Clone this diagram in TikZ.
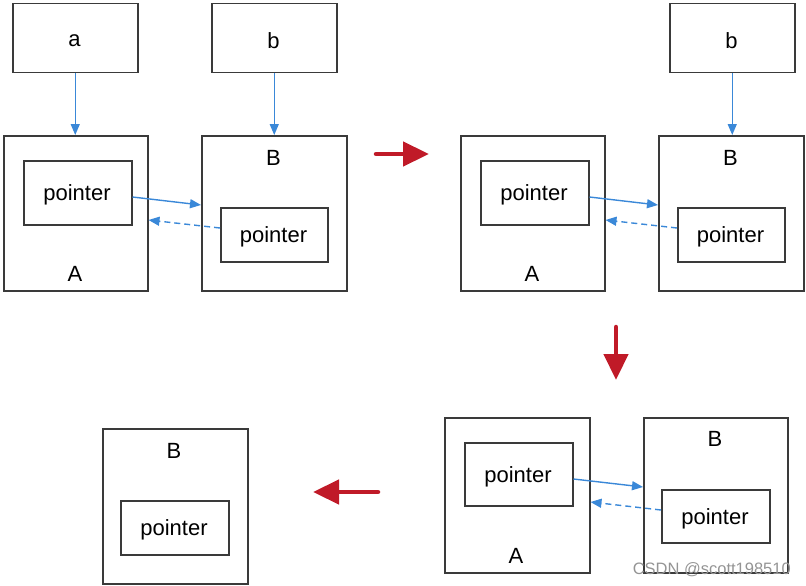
\documentclass[tikz,border=0pt]{standalone}
\usepackage{fontspec}
\setmainfont{Liberation Sans}
\usetikzlibrary{arrows.meta}
\definecolor{boxgray}{RGB}{58,58,58}
\definecolor{linkblue}{RGB}{58,136,216}
\definecolor{bigred}{RGB}{192,26,40}
\tikzset{
  box/.style={draw=boxgray,line width=1.5pt,inner sep=0pt},
  lbl/.style={font=\fontsize{22}{24}\selectfont,inner sep=0pt,yshift=-2pt},
  link/.style={draw=linkblue,line width=1.4pt,-{Triangle[length=11pt,width=9pt]}},
  back/.style={link,dash pattern=on 6pt off 4pt},
  bigarrow/.style={draw=bigred,line width=4.5pt,line cap=round,-{Triangle[length=26pt,width=24pt,line cap=butt]},shorten >=-1pt},
}
\newcommand{\boxat}[5]{% name, x1,y1,x2,y2
  \node[box,minimum width={(#4-#2)*1pt},minimum height={(#5-#3)*1pt},anchor=north west] (#1) at (#2,#3) {};}
\begin{document}
\begin{tikzpicture}[x=1pt,y=-1pt]
\useasboundingbox (0,0) rectangle (806,586);
% Panel 1
\boxat{a1}{12}{3}{137}{72}
\node[lbl] (ta1) at (74.5,39) {a};
\boxat{b1}{211}{3}{336}{72}
\node[lbl] (tb1) at (273.5,39) {b};
\boxat{A1}{3}{135}{147}{290}
\node[lbl] (tA1) at (75,272) {A};
\boxat{pA1}{23}{160}{131}{224}
\node[lbl] (tpA1) at (77,193) {pointer};
\boxat{B1}{201}{135}{346}{290}
\node[lbl] (tB1) at (273.5,156) {B};
\boxat{pB1}{220}{207}{327}{261}
\node[lbl] (tpB1) at (273.5,235) {pointer};
\draw[link] (a1.south) -- (a1.south |- A1.north);
\draw[link] (b1.south) -- (b1.south |- B1.north);
\draw[link] (pA1.east |- 0,197) -- (B1.west |- 0,205);
\draw[back] (pB1.west |- 0,228) -- (A1.east |- 0,220);
% Panel 2
\boxat{b2}{669}{3}{794}{72}
\node[lbl] (tb2) at (731.5,39) {b};
\boxat{A2}{460}{135}{604}{290}
\node[lbl] (tA2) at (532,272) {A};
\boxat{pA2}{480}{160}{588}{224}
\node[lbl] (tpA2) at (534,193) {pointer};
\boxat{B2}{658}{135}{803}{290}
\node[lbl] (tB2) at (730.5,156) {B};
\boxat{pB2}{677}{207}{784}{261}
\node[lbl] (tpB2) at (730.5,235) {pointer};
\draw[link] (b2.south) -- (b2.south |- B2.north);
\draw[link] (pA2.east |- 0,197) -- (B2.west |- 0,205);
\draw[back] (pB2.west |- 0,228) -- (A2.east |- 0,220);
% Panel 3
\boxat{A3}{444}{417}{589}{572}
\node[lbl] (tA3) at (516,554) {A};
\boxat{pA3}{464}{442}{572}{505}
\node[lbl] (tpA3) at (518,475) {pointer};
\boxat{B3}{643}{417}{787}{572}
\node[lbl] (tB3) at (715,437) {B};
\boxat{pB3}{661}{489}{769}{542}
\node[lbl] (tpB3) at (715,517) {pointer};
\draw[link] (pA3.east |- 0,479) -- (B3.west |- 0,487);
\draw[back] (pB3.west |- 0,510) -- (A3.east |- 0,502);
% Panel 4
\boxat{B4}{102}{428}{247}{583}
\node[lbl] (tB4) at (174,449) {B};
\boxat{pB4}{120}{500}{228}{554}
\node[lbl] (tpB4) at (174,528) {pointer};
% big red arrows
\coordinate (r1s) at (376,154); \coordinate (r1e) at (428,154);
\coordinate (r2s) at (616,327); \coordinate (r2e) at (616,379);
\coordinate (r3s) at (378,492); \coordinate (r3e) at (314,492);
\draw[bigarrow] (r1s) -- (r1e);
\draw[bigarrow] (r2s) -- (r2e);
\draw[bigarrow] (r3s) -- (r3e);
% watermark
\node[font=\fontsize{16.5}{18}\selectfont,text=black!42,anchor=east,inner sep=0pt] (wm) at (791,570) {CSDN @scott198510};
\end{tikzpicture}
\end{document}
